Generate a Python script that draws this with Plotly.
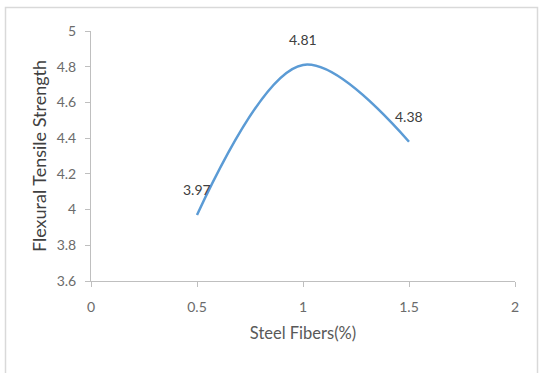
import plotly.graph_objects as go

steel_fibers = [0.5, 1.0, 1.5]
flexural_strength = [3.97, 4.81, 4.38]
labels = ["3.97", "4.81", "4.38"]

W, H = 540, 373
L, R, T, B = 91, 25, 31, 92
pw, ph = W - L - R, H - T - B

def px_to_paper_x(px):
    return (px - L) / pw

def px_to_paper_y(py):
    return (H - B - py) / ph

FONT = "Lato, Open Sans, sans-serif"

fig = go.Figure()
fig.add_trace(go.Scatter(
    x=steel_fibers, y=flexural_strength,
    mode="lines",
    line=dict(color="#5B9BD5", width=2.5, shape="spline", smoothing=1.0),
    showlegend=False, hoverinfo="skip",
))

annotations = []
for xv, yv, t in zip(steel_fibers, flexural_strength, labels):
    annotations.append(dict(
        x=xv, y=yv, xref="x", yref="y", text=t, showarrow=False,
        yshift=25, font=dict(family=FONT, size=14, color="#404040"),
    ))

fig.update_layout(
    width=W, height=H,
    margin=dict(l=L, r=R, t=T, b=B),
    paper_bgcolor="white", plot_bgcolor="white",
    font=dict(family=FONT, color="#595959"),
    annotations=annotations,
    xaxis=dict(
        range=[0, 2], tickvals=[0, 0.5, 1, 1.5, 2], ticktext=["0", "0.5", "1", "1.5", "2"],
        showgrid=False, zeroline=False, showline=True, linecolor="#BFBFBF", linewidth=1,
        ticks="outside", ticklen=5, tickcolor="#BFBFBF", ticklabelstandoff=8,
        tickfont=dict(size=14, color="#6b6b6b"),
        title=dict(text="Steel Fibers(%)", font=dict(size=16.5, color="#595959"), standoff=13),
    ),
    yaxis=dict(
        range=[3.6, 5], tickvals=[3.6, 3.8, 4, 4.2, 4.4, 4.6, 4.8, 5],
        ticktext=["3.6", "3.8", "4", "4.2", "4.4", "4.6", "4.8", "5"],
        showgrid=False, zeroline=False, showline=True, linecolor="#BFBFBF", linewidth=1,
        ticks="outside", ticklen=5, tickcolor="#BFBFBF", ticklabelstandoff=6,
        tickfont=dict(size=14, color="#6b6b6b"),
        title=dict(text="Flexural Tensile Strength", font=dict(size=18, color="#404040"), standoff=5),
    ),
    shapes=[dict(
        type="rect", xref="paper", yref="paper",
        x0=px_to_paper_x(5.5), x1=px_to_paper_x(537.5),
        y0=px_to_paper_y(H + 10), y1=px_to_paper_y(7.5),
        line=dict(color="#D9D9D9", width=1.5), fillcolor="rgba(0,0,0,0)", layer="below",
    )],
)

fig.write_html("out.html")
